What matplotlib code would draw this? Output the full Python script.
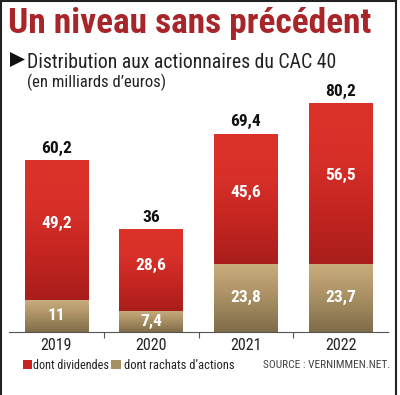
import numpy as np
import matplotlib.pyplot as plt
from matplotlib.colors import LinearSegmentedColormap
from matplotlib.patches import Rectangle, Polygon
from matplotlib.lines import Line2D

years = ['2019', '2020', '2021', '2022']
dividendes = [49.2, 28.6, 45.6, 56.5]
rachats = [11, 7.4, 23.8, 23.7]
totaux = ['60,2', '36', '69,4', '80,2']
lab_div = ['49,2', '28,6', '45,6', '56,5']
lab_rach = ['11', '7,4', '23,8', '23,7']

COND = ['Roboto Condensed', 'DejaVu Sans']
red_cmap = LinearSegmentedColormap.from_list('r', ['#a91e1c', '#c42520', '#d8302a', '#dc3229'])
tan_cmap = LinearSegmentedColormap.from_list('t', ['#7f6c49', '#a88f63', '#c8ad7d'])

fig = plt.figure(figsize=(4.0, 3.95), dpi=100)
ax = fig.add_axes([0.0225, 0.1605, 0.9475, 0.6494])
x = np.arange(len(years))
w = 0.67


def gradient_bar(xc, bottom, height, cmap):
    bar = ax.bar(xc, height, w, bottom=bottom, color='none', edgecolor='none')[0]
    grad = np.linspace(0, 1, 256).reshape(-1, 1)
    im = ax.imshow(grad, cmap=cmap, origin='lower', aspect='auto',
                   extent=[xc - w / 2, xc + w / 2, bottom, bottom + height], zorder=1)
    im.set_clip_path(bar)


for i in x:
    gradient_bar(i, 0, rachats[i], tan_cmap)
    gradient_bar(i, rachats[i], dividendes[i], red_cmap)
    tot = rachats[i] + dividendes[i]
    ax.text(i, tot + 2.6, totaux[i], ha='center', va='baseline', fontsize=12.5,
            fontweight='bold', family=COND, color='#111111')
    ax.text(i, rachats[i] + dividendes[i] * 0.55, lab_div[i], ha='center', va='center',
            fontsize=12.5, fontweight='bold', family=COND, color='white')
    ax.text(i, rachats[i] / 2, lab_rach[i], ha='center', va='center',
            fontsize=12.5, fontweight='bold', family=COND, color='white')

ax.set_xlim(-0.5, 3.5)
ax.set_ylim(0, 90)
for s in ['top', 'right', 'left']:
    ax.spines[s].set_visible(False)
ax.spines['bottom'].set_color('#555555')
ax.set_yticks([])
ax.set_xticks([0.5, 1.5, 2.5])
ax.set_xticklabels([])
ax.tick_params(axis='x', direction='out', length=4, color='#555555')
for i in x:
    ax.text(i, -6.5, years[i], ha='center', va='baseline', fontsize=11.5, family=COND,
            color='#222222')

fig.text(0.02, 1 - 33 / 395, 'Un niveau sans précédent', ha='left', va='baseline',
         fontsize=25.5, fontweight='bold', family=COND, color='#a8262a')
fig.patches.append(Polygon([(10 / 400, 1 - 52 / 395), (10 / 400, 1 - 67 / 395),
                            (25 / 400, 1 - 59.5 / 395)], closed=True,
                           transform=fig.transFigure, facecolor='#111111', edgecolor='none'))
fig.text(27 / 400, 1 - 67.5 / 395, 'Distribution aux actionnaires du CAC 40', ha='left',
         va='baseline', fontsize=14.2, family=COND, color='#222222')
fig.text(27 / 400, 1 - 87 / 395, '(en milliards d\u2019euros)', ha='left', va='baseline',
         fontsize=12, family=COND, color='#222222')

# legende
fig.patches.append(Rectangle((23 / 400, 1 - 369 / 395), 9 / 400, 9 / 395,
                             transform=fig.transFigure, facecolor='#c8261f', edgecolor='none'))
fig.text(33 / 400, 1 - 369 / 395, 'dont dividendes', ha='left', va='baseline',
         fontsize=8.7, family=COND, color='#222222')
fig.patches.append(Rectangle((111 / 400, 1 - 369 / 395), 10 / 400, 9 / 395,
                             transform=fig.transFigure, facecolor='#a88f63', edgecolor='none'))
fig.text(124 / 400, 1 - 369 / 395, 'dont rachats d\u2019actions', ha='left', va='baseline',
         fontsize=9, family=COND, color='#222222')
fig.text(390 / 400, 1 - 368 / 395, 'SOURCE : VERNIMMEN.NET.', ha='right', va='baseline',
         fontsize=8.2, family=COND, color='#444444')

# cadre
for xs, ys in [([0.002, 0.002], [0, 0.998]), ([0.002, 0.99], [0.998, 0.998]),
               ([0.99, 0.99], [0, 0.998])]:
    fig.lines.append(Line2D(xs, ys, transform=fig.transFigure, color='#222222', lw=1.5))

fig.savefig('out.png', dpi=100)
